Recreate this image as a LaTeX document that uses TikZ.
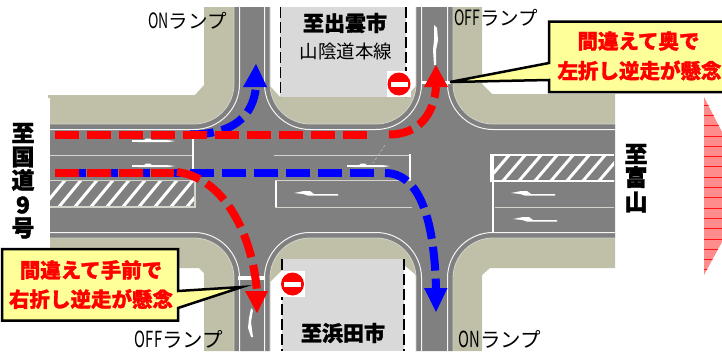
\documentclass[tikz,border=0pt]{standalone}
\usepackage{fontspec}
\setmainfont[BoldFeatures={FakeBold=1.3}]{Noto Sans CJK JP}
\newcommand{\hw}[1]{\scalebox{0.72}[1.08]{#1}}
\definecolor{roadgray}{HTML}{808080}
\definecolor{curb}{HTML}{C0C0A9}
\definecolor{blockgray}{HTML}{D9D9D9}
\definecolor{edgeline}{HTML}{D4D4CC}
\definecolor{calloutfill}{HTML}{FFFF99}
\definecolor{pinkfill}{HTML}{FF8C8C}
\tikzset{
  x=1pt,y=-1pt,
  curbfill/.style={fill=curb,draw=none},
  outerline/.style={draw=edgeline,line width=.8pt},
  innerline/.style={draw=white!92!gray,line width=1pt},
  lane/.style={draw=edgeline,line width=1pt},
  stopbar/.style={draw=white,line width=2.8pt},
  blockdash/.style={draw=black,line width=1.3pt,dash pattern=on 11pt off 4pt},
  redroute/.style={draw=red,line width=8pt,dash pattern=on 24pt off 8pt},
  blueroute/.style={draw=blue,line width=8pt,dash pattern=on 24pt off 8pt},
  callout/.style={fill=calloutfill,draw=black,line width=2.5pt,line join=miter},
  warn/.style={text=red,inner sep=0pt,font=\bfseries\fontsize{20.5}{22}\selectfont},
  lamp/.style={inner sep=0pt,font=\fontsize{19.5}{20}\selectfont},
  lampbig/.style={inner sep=0pt,font=\fontsize{20.5}{21}\selectfont},
  place/.style={inner sep=0pt,font=\bfseries\fontsize{21}{22}\selectfont},
  sideplace/.style={inner sep=0pt,font=\bfseries\fontsize{23}{24}\selectfont},
  larrow/.pic={\fill[white] (0,0) -- (10,-2) -- (16,-2) -- (20,1) -- (44,1) -- (44,2.6) -- (14,2.6) -- (9,1) -- cycle;},
  rarrow/.pic={\fill[white] (0,-.8) -- (12,-.8) -- (14,-2.5) -- (18,-2.5) -- (20,-.8) -- (36,-.8) -- (43,0) -- (36,1.2) -- (12,1.2) -- (0,.8) -- cycle;},
  noentry/.pic={\fill[white] (-12,-13) rectangle (12,13);
    \fill[red] (0,0) circle[radius=11.5pt];
    \fill[white] (-8.5,-2.5) rectangle (8.5,2.5);}
}
\begin{document}
\begin{tikzpicture}
\useasboundingbox (0,0) rectangle (722,351);
\clip (0,0) rectangle (722,351);
\fill[white] (0,0) rectangle (722,351);
% pink shape at right
\fill[pinkfill] (704,97) -- (722,132) -- (722,242) -- (704,275) -- cycle;
\begin{scope}
\clip (704,97) -- (722,132) -- (722,242) -- (704,275) -- cycle;
\foreach \yy in {105,115.3,...,275} \draw[red!85!pinkfill,line width=.7pt] (704,\yy) -- (722,\yy);
\end{scope}
% curb areas
\fill[curbfill] (204,7) -- (234,7) -- (234,130) -- (50,130) -- (50,98) -- (48,98) -- (48,95) -- (195,95) -- (204,85) -- cycle;
\fill[curbfill] (453,7) -- (482,7) -- (482,84) -- (492,94) -- (615,94) -- (615,130) -- (453,130) -- cycle;
\fill[curbfill] (270,86) -- (280,97) -- (406,97) -- (416,86) -- (416,130) -- (270,130) -- cycle;
\fill[curbfill] (50,232) -- (234,232) -- (234,351) -- (204,351) -- (204,273) -- (199,268) -- (50,268) -- cycle;
\fill[curbfill] (270,232) -- (416,232) -- (416,275) -- (404,265) -- (282,270) -- (270,282) -- cycle;
\fill[curbfill] (453,232) -- (615,232) -- (615,268) -- (490,268) -- (482,275) -- (482,351) -- (453,351) -- cycle;
% road surface
\fill[roadgray] (50,124) -- (194,124) .. controls (216,124) and (234,106) .. (234,84) -- (234,7) -- (270,7) -- (270,84)
  .. controls (270,106) and (288,124) .. (310,124) -- (376,124) .. controls (398,124) and (416,106) .. (416,84) -- (416,7) -- (453,7) -- (453,84)
  .. controls (453,106) and (471,124) .. (493,124) -- (615,124) -- (615,238) -- (493,238)
  .. controls (471,238) and (453,256) .. (453,278) -- (453,351) -- (416,351) -- (416,278)
  .. controls (416,256) and (398,238) .. (376,238) -- (310,238) .. controls (288,238) and (270,256) .. (270,278) -- (270,351) -- (234,351) -- (234,278)
  .. controls (234,256) and (216,238) .. (194,238) -- (50,238) -- cycle;
% curb edge lines
\draw[outerline] (50,124) -- (194,124) .. controls (216,124) and (234,106) .. (234,84) -- (234,7);
\draw[outerline] (270,7) -- (270,84) .. controls (270,106) and (288,124) .. (310,124) -- (376,124) .. controls (398,124) and (416,106) .. (416,84) -- (416,7);
\draw[outerline] (453,7) -- (453,84) .. controls (453,106) and (471,124) .. (493,124) -- (615,124);
\draw[outerline] (615,238) -- (493,238) .. controls (471,238) and (453,256) .. (453,278) -- (453,351);
\draw[outerline] (416,351) -- (416,278) .. controls (416,256) and (398,238) .. (376,238) -- (310,238) .. controls (288,238) and (270,256) .. (270,278) -- (270,351);
\draw[outerline] (234,351) -- (234,278) .. controls (234,256) and (216,238) .. (194,238) -- (50,238);
% inner edge lines
\draw[innerline] (50,129.5) -- (194,129.5) .. controls (219,129.5) and (239.5,109) .. (239.5,84) -- (239.5,7);
\draw[innerline] (264.5,7) -- (264.5,84) .. controls (264.5,109) and (285,129.5) .. (310,129.5) -- (376,129.5) .. controls (401,129.5) and (421.5,109) .. (421.5,84) -- (421.5,7);
\draw[innerline] (447.5,7) -- (447.5,84) .. controls (447.5,109) and (468,129.5) .. (493,129.5) -- (615,129.5);
\draw[innerline] (615,232.5) -- (493,232.5) .. controls (468,232.5) and (447.5,253) .. (447.5,278) -- (447.5,351);
\draw[innerline] (421.5,351) -- (421.5,278) .. controls (421.5,253) and (401,232.5) .. (376,232.5) -- (310,232.5) .. controls (285,232.5) and (264.5,253) .. (264.5,278) -- (264.5,351);
\draw[innerline] (239.5,351) -- (239.5,278) .. controls (239.5,253) and (219,232.5) .. (194,232.5) -- (50,232.5);
% blocks
\fill[blockgray] (280,7) rectangle (406,97);
\fill[blockgray] (282,259) rectangle (404,351);
\draw[blockdash] (280.5,7) -- (280.5,97);
\draw[blockdash] (406,7) -- (406,97);
\draw[blockdash] (282,259) -- (282,351);
\draw[blockdash] (404,259) -- (404,351);
% stop bars on the side roads
\draw[draw=white,line width=3.5pt] (421,82.5) -- (451,82.5);
\draw[draw=white,line width=4.5pt] (238,278) -- (265,278);
% lane lines and stop bars
\draw[lane] (50,155) -- (192,155);
\draw[stopbar] (193,137) -- (193,180);
\draw[lane] (274,155) -- (410,155);
\draw[stopbar] (410,154) -- (410,181);
\draw[stopbar] (276,180) -- (276,208);
\draw[lane] (275,180.5) -- (411,180.5);
\draw[draw=edgeline,line width=1pt] (275,207) -- (412,207);
\draw[stopbar] (493,155) -- (493,232);
\draw[lane] (495,207) -- (614,207);
\draw[dash pattern=on 3pt off 2pt,draw=gray!60!white,line width=.7pt] (385,145) -- (373,163);
% hatched zones
\begin{scope}
\clip (50,180) rectangle (195,207);
\foreach \k in {26,42,...,196} \draw[white,line width=3pt] (\k,208) -- (\k+24,179);
\end{scope}
\draw[draw=edgeline,line width=1.2pt] (50,180.5) -- (195,180.5) -- (195,207) -- (50,207);
\begin{scope}
\clip (491,155) rectangle (614,181);
\foreach \k in {470,486,...,620} \draw[white,line width=3pt] (\k,182) -- (\k+24,154);
\end{scope}
\draw[draw=white,line width=1.5pt] (614,155) -- (491,155) -- (491,181) -- (614,181);
% road arrows
\pic at (132,141) {rarrow};
\pic at (132,166) {rarrow};
\pic at (347,166) {rarrow};
\pic at (294,193) {larrow};
\pic at (511,193) {larrow};
\pic at (513,219) {larrow};
\fill[white] (434,25) -- (437,28) -- (438,40) -- (436,50) -- (436,65) -- (434,65) -- (433,50) -- (434,40) -- cycle;
\fill[white] (251,308) -- (253,310) -- (251,322) -- (253,337) -- (251,337) -- (248,328) -- (249,318) -- cycle;
% no-entry signs
\pic at (399,84) {noentry};
\pic at (292.5,284) {noentry};
% blue routes
\draw[blueroute] (62,173) -- (374,173);
\draw[blueroute] (385,173) .. controls (418,173) and (434,215) .. (436,288);
\fill[blue] (424,288) -- (447.5,288) -- (436,312) -- cycle;
\draw[blueroute] (190,134.5) .. controls (235,134.5) and (253,115) .. (256,87);
\fill[blue] (243,87) -- (267,87) -- (256,64) -- cycle;
% red routes
\draw[redroute] (55,134.5) -- (367,134.5);
\draw[redroute] (389,134.5) .. controls (418,134.5) and (434,115) .. (436,87);
\fill[red] (424,87) -- (448,87) -- (436,65) -- cycle;
\draw[redroute] (55,173) -- (174,173);
\draw[redroute] (177,172) .. controls (225,178) and (252,235) .. (257,291);
\fill[red] (245,291) -- (268,291) -- (257,313) -- cycle;
% callouts
\draw[callout] (549,21.5) -- (726,21.5) -- (726,92) -- (549,92) -- (549,80) -- (450,82) -- (549,63) -- cycle;
\draw[callout] (2,249) -- (178,249) -- (178,291) -- (242,287) -- (178,308) -- (178,320.5) -- (2,320.5) -- cycle;
% texts
\node[warn] (w1) at (638.5,41) {間違えて奥で};
\node[warn] (w2) at (639.5,70.5) {左折し逆走が懸念};
\node[warn] (w3) at (91,270) {間違えて手前で};
\node[warn] (w4) at (91,299) {右折し逆走が懸念};
\node[lamp] (l1) at (187.5,21) {\hw{ON}ランプ};
\node[lamp] (l2) at (496,18) {\hw{OFF}ランプ};
\node[lampbig] (l3) at (179,339.5) {\hw{OFF}ランプ};
\node[lampbig] (l4) at (500,339.5) {\hw{ON}ランプ};
\node[place] (b1) at (345,23) {至出雲市};
\node[lamp,font=\fontsize{18.5}{20}\selectfont] (b2) at (346,51) {山陰道本線};
\node[place] (b3) at (343,333) {至浜田市};
\node[sideplace] (s1) at (23,133) {至};
\node[sideplace] (s2) at (23,157) {国};
\node[sideplace] (s3) at (23,180) {道};
\node[sideplace] (s4) at (23,205) {9};
\node[sideplace] (s5) at (23,228) {号};
\node[sideplace] (e1) at (636,154) {至};
\node[sideplace] (e2) at (636,177) {富};
\node[sideplace] (e3) at (636,202) {山};
\end{tikzpicture}
\end{document}
